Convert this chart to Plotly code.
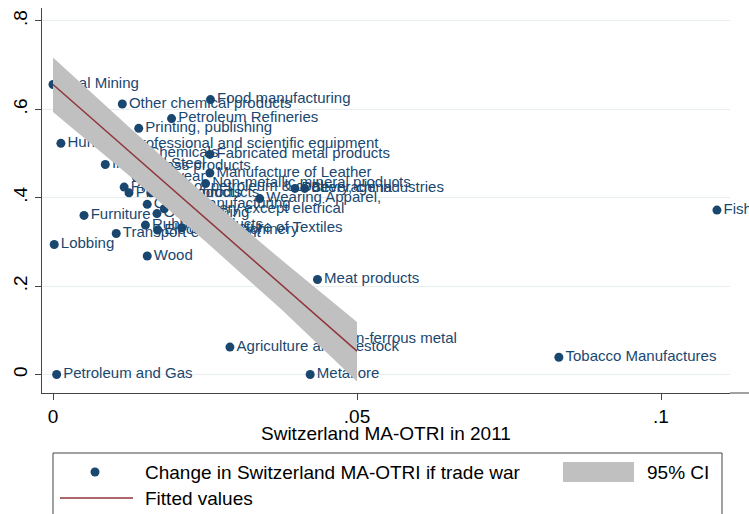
import plotly.graph_objects as go

# ---- data ----
sectors = [
    "Coal Mining", "Other chemical products", "Food manufacturing", "Petroleum Refineries",
    "Printing, publishing", "Hunting", "Professional and scientific equipment", "Chemicals",
    "Fabricated metal products", "Iron and Steel", "Glass products", "Footwear",
    "Manufacture of Leather", "Non-metallic mineral products", "Products of petroleum & coal",
    "Plastic products", "Paper products", "Pottery, china", "Beverage industries",
    "Wearing Apparel,", "Other manufacturing", "Machinery except eletrical", "Other mining",
    "Furniture", "Rubber products", "Electrical machinery", "Manufacture of Textiles",
    "Transport equipment", "Lobbing", "Wood", "Meat products", "Non-ferrous metal",
    "Agriculture and livestock", "Petroleum and Gas", "Metal ore", "Tobacco Manufactures",
    "Fishing",
]
otri_2011 = [
    0.0000, 0.0114, 0.0259, 0.0195,
    0.0141, 0.0013, 0.0117, 0.0146,
    0.0258, 0.0086, 0.0150, 0.0137,
    0.0258, 0.0251, 0.0117,
    0.0125, 0.0161, 0.0398, 0.0414,
    0.0340, 0.0155, 0.0183, 0.0171,
    0.0051, 0.0152, 0.0172, 0.0212,
    0.0104, 0.0002, 0.0155, 0.0435, 0.0456,
    0.0291, 0.0006, 0.0423, 0.0832,
    0.1092,
]
otri_change = [
    0.656, 0.612, 0.622, 0.579,
    0.557, 0.523, 0.521, 0.501,
    0.498, 0.475, 0.471, 0.446,
    0.456, 0.432, 0.424,
    0.411, 0.411, 0.421, 0.421,
    0.398, 0.385, 0.375, 0.364,
    0.360, 0.338, 0.327, 0.332,
    0.319, 0.294, 0.268, 0.215, 0.080,
    0.062, 0.000, 0.000, 0.039,
    0.372,
]

fit_x = [0.0, 0.0125, 0.025, 0.0375, 0.05]
fit_y = [0.656, 0.505, 0.354, 0.204, 0.053]
ci_low = [0.594, 0.450, 0.302, 0.148, -0.016]
ci_high = [0.717, 0.560, 0.406, 0.260, 0.119]

x_ticks = [0, 0.05, 0.1]
x_ticklabels = ["0", ".05", ".1"]
y_ticks = [0, 0.2, 0.4, 0.6, 0.8]
y_ticklabels = ["0", ".2", ".4", ".6", ".8"]

NAVY = "#1a476f"
MAROON = "#90353b"
CIGREY = "#c0c0c0"
FONT = "Liberation Sans, Arial, sans-serif"

fig = go.Figure()

fig.add_trace(go.Scatter(
    x=otri_2011, y=otri_change, mode="markers+text", text=sectors,
    textposition="middle right", cliponaxis=False,
    marker=dict(color=NAVY, size=9),
    textfont=dict(color=NAVY, size=15, family=FONT),
    name="Change in Switzerland MA-OTRI if trade war", showlegend=False,
))

fig.add_trace(go.Scatter(
    x=fit_x + fit_x[::-1], y=ci_high + ci_low[::-1],
    fill="toself", fillcolor=CIGREY, line=dict(width=0), mode="lines",
    name="95% CI", showlegend=False, hoverinfo="skip",
))

fig.add_trace(go.Scatter(
    x=fit_x, y=fit_y, mode="lines", line=dict(color=MAROON, width=1.5),
    name="Fitted values", showlegend=False,
))

# plot-area geometry in pixels
L, R, T, B = 42, 730, 8, 393
W, H = 749, 514
ZERO_PX = 374.5
PX_PER_UNIT = 442
pw, ph = R - L, B - T

def px(xp):
    return (xp - L) / pw

def py(yp):
    return (B - yp) / ph

shapes = [
    dict(type="line", xref="paper", yref="paper", x0=1, x1=px(W), y0=0, y1=0,
         line=dict(color="#444", width=1)),
    dict(type="rect", xref="paper", yref="paper", x0=px(53), x1=px(722), y0=py(453), y1=py(530),
         line=dict(color="#444", width=1), fillcolor="white"),
    dict(type="circle", xref="paper", yref="paper", x0=px(90.5), x1=px(99.5), y0=py(476.5), y1=py(467.5),
         line=dict(width=0), fillcolor=NAVY),
    dict(type="line", xref="paper", yref="paper", x0=px(60), x1=px(133), y0=py(498), y1=py(498),
         line=dict(color=MAROON, width=1.5)),
    dict(type="rect", xref="paper", yref="paper", x0=px(563), x1=px(634), y0=py(482), y1=py(462),
         line=dict(width=0), fillcolor=CIGREY),
]

annotations = [
    dict(text="Change in Switzerland MA-OTRI if trade war", x=px(143), y=py(472), xref="paper", yref="paper",
         xanchor="left", yanchor="middle", showarrow=False, font=dict(size=19, color="black", family=FONT)),
    dict(text="95% CI", x=px(645), y=py(472), xref="paper", yref="paper",
         xanchor="left", yanchor="middle", showarrow=False, font=dict(size=19, color="black", family=FONT)),
    dict(text="Fitted values", x=px(143), y=py(498), xref="paper", yref="paper",
         xanchor="left", yanchor="middle", showarrow=False, font=dict(size=19, color="black", family=FONT)),
    dict(text="Switzerland MA-OTRI in 2011", x=px(386), y=py(434), xref="paper", yref="paper",
         xanchor="center", yanchor="middle", showarrow=False, font=dict(size=19, color="black", family=FONT)),
]

fig.update_layout(
    width=W, height=H,
    margin=dict(l=L, r=W - R, t=T, b=H - B, autoexpand=False),
    paper_bgcolor="white", plot_bgcolor="white",
    font=dict(family=FONT, color="black"),
    shapes=shapes, annotations=annotations,
    xaxis=dict(
        range=[(L - 53) / 6080, (R - 53) / 6080],
        tickvals=x_ticks, ticktext=x_ticklabels,
        showgrid=False, zeroline=False, automargin=False,
        showline=True, linecolor="#444", linewidth=1,
        ticks="outside", ticklen=6, tickcolor="#444",
        tickfont=dict(size=19, color="black"),
    ),
    yaxis=dict(
        range=[(ZERO_PX - B) / PX_PER_UNIT, (ZERO_PX - T) / PX_PER_UNIT],
        tickvals=y_ticks, ticktext=y_ticklabels,
        showgrid=True, gridcolor="#e6eef1", gridwidth=1, zeroline=False, automargin=False,
        showline=True, linecolor="#444", linewidth=1,
        ticks="outside", ticklen=6, tickcolor="#444",
        tickangle=-90, tickfont=dict(size=19, color="black"),
    ),
)

fig.write_html("out.html", config={"displayModeBar": False},
               post_script="document.body.style.margin='0';")
